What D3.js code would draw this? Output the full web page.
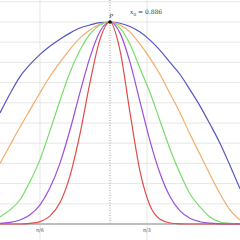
<!DOCTYPE html>
<html>
<head>
<meta charset="utf-8">
<script src="https://cdn.jsdelivr.net/npm/d3@7"></script>
<style>
  body { margin: 0; background: #fff; }
  svg { display: block; }
</style>
</head>
<body>
<script>

// x values (radians), one sample every ~10px across the view
var xs = [0.328, 0.377, 0.426, 0.475, 0.524, 0.572, 0.621, 0.670, 0.719, 0.768, 0.817, 0.866,
          0.915, 0.964, 1.013, 1.062, 1.111, 1.160, 1.209, 1.257, 1.306, 1.355, 1.404, 1.453, 1.502];

var blue   = [0.55, 0.645, 0.73, 0.79, 0.84, 0.88, 0.915, 0.945, 0.97, 0.985, 0.997, 1,
              0.994, 0.978, 0.95, 0.91, 0.86, 0.80, 0.74, 0.665, 0.585, 0.495, 0.40, 0.29, 0.175];
var orange = [0.30, 0.39, 0.48, 0.565, 0.65, 0.73, 0.80, 0.865, 0.92, 0.96, 0.99, 1,
              0.985, 0.95, 0.89, 0.82, 0.74, 0.645, 0.55, 0.445, 0.345, 0.245, 0.15, 0.07, 0.02];
var green  = [0.035, 0.07, 0.12, 0.21, 0.32, 0.46, 0.61, 0.75, 0.86, 0.94, 0.985, 1,
              0.97, 0.89, 0.77, 0.65, 0.51, 0.37, 0.25, 0.15, 0.085, 0.035, 0.01, 0.003, 0];
var purple = [0.003, 0.008, 0.02, 0.046, 0.095, 0.178, 0.30, 0.464, 0.65, 0.825, 0.953, 1,
              0.945, 0.80, 0.605, 0.41, 0.25, 0.135, 0.065, 0.028, 0.011, 0.004, 0.001, 0, 0];
var red    = [0, 0, 0, 0.003, 0.012, 0.039, 0.105, 0.237, 0.445, 0.70, 0.914, 1,
              0.86, 0.55, 0.26, 0.09, 0.023, 0.005, 0.001, 0, 0, 0, 0, 0, 0];

var series = [blue, orange, green, purple, red];
var colors = ["#5656c6", "#f2ad6a", "#78dc6a", "#9a4fd8", "#e24b48"];

var xTicks = [Math.PI / 6, Math.PI / 3];
var xTickLabels = ["π/6", "π/3"];
var yGrid = [0.1, 0.2, 0.3, 0.4, 0.5, 0.6, 0.7, 0.8, 0.9, 1.0, 1.1];

var x0 = 0.866, y0 = 1;
var x0Label = "0.886";

var width = 240, height = 240;

var xScale = d3.scaleLinear()
    .domain([0.328, 1.502])
    .range([0, width]);

var yScale = d3.scaleLinear()
    .domain([0, 1.1])
    .range([224, 1.8]);

var svg = d3.select("body").append("svg")
    .attr("width", width)
    .attr("height", height);

// grid
svg.append("g").selectAll("line")
    .data(yGrid)
  .enter().append("line")
    .attr("x1", 0).attr("x2", width)
    .attr("y1", function(d) { return yScale(d); })
    .attr("y2", function(d) { return yScale(d); })
    .attr("stroke", "#e6e6e6")
    .attr("stroke-width", 1);

svg.append("g").selectAll("line")
    .data(xTicks)
  .enter().append("line")
    .attr("x1", function(d) { return xScale(d); })
    .attr("x2", function(d) { return xScale(d); })
    .attr("y1", 0).attr("y2", height)
    .attr("stroke", "#e6e6e6")
    .attr("stroke-width", 1);

// x axis
svg.append("line")
    .attr("x1", 0).attr("x2", width)
    .attr("y1", yScale(0)).attr("y2", yScale(0))
    .attr("stroke", "#a8a8a8")
    .attr("stroke-width", 1.5);

svg.append("g").selectAll("text")
    .data(xTicks)
  .enter().append("text")
    .attr("x", function(d) { return xScale(d); })
    .attr("y", 232)
    .attr("text-anchor", "middle")
    .attr("font-family", "DejaVu Sans")
    .attr("font-size", 5)
    .attr("fill", "#666")
    .text(function(d, i) { return xTickLabels[i]; });

// dotted line through the maximum
svg.append("line")
    .attr("x1", xScale(x0)).attr("x2", xScale(x0))
    .attr("y1", 0).attr("y2", yScale(0))
    .attr("stroke", "#999")
    .attr("stroke-width", 1)
    .attr("stroke-dasharray", "1,1.5");

var line = d3.line()
    .x(function(d, i) { return xScale(xs[i]); })
    .y(function(d) { return yScale(d); })
    .curve(d3.curveMonotoneX);

svg.append("g").selectAll("path")
    .data(series)
  .enter().append("path")
    .attr("d", line)
    .attr("fill", "none")
    .attr("stroke", function(d, i) { return colors[i]; })
    .attr("stroke-width", 1.2);

// point P
svg.append("circle")
    .attr("cx", xScale(x0))
    .attr("cy", yScale(y0))
    .attr("r", 1.8)
    .attr("fill", "#111");

svg.append("text")
    .attr("x", xScale(x0) + 1)
    .attr("y", yScale(y0) - 4)
    .attr("text-anchor", "middle")
    .attr("font-family", "DejaVu Serif")
    .attr("font-style", "italic")
    .attr("font-size", 5.5)
    .attr("fill", "#333")
    .text("P");

var lab = svg.append("text")
    .attr("x", 130)
    .attr("y", 14)
    .attr("font-family", "DejaVu Serif")
    .attr("font-size", 6)
    .attr("fill", "#333");
lab.append("tspan").attr("font-style", "italic").text("x");
lab.append("tspan").attr("font-size", 4.2).attr("dy", 1.5).text("0");
lab.append("tspan").attr("dy", -1.5).text(" = " + x0Label);

</script>
</body>
</html>
